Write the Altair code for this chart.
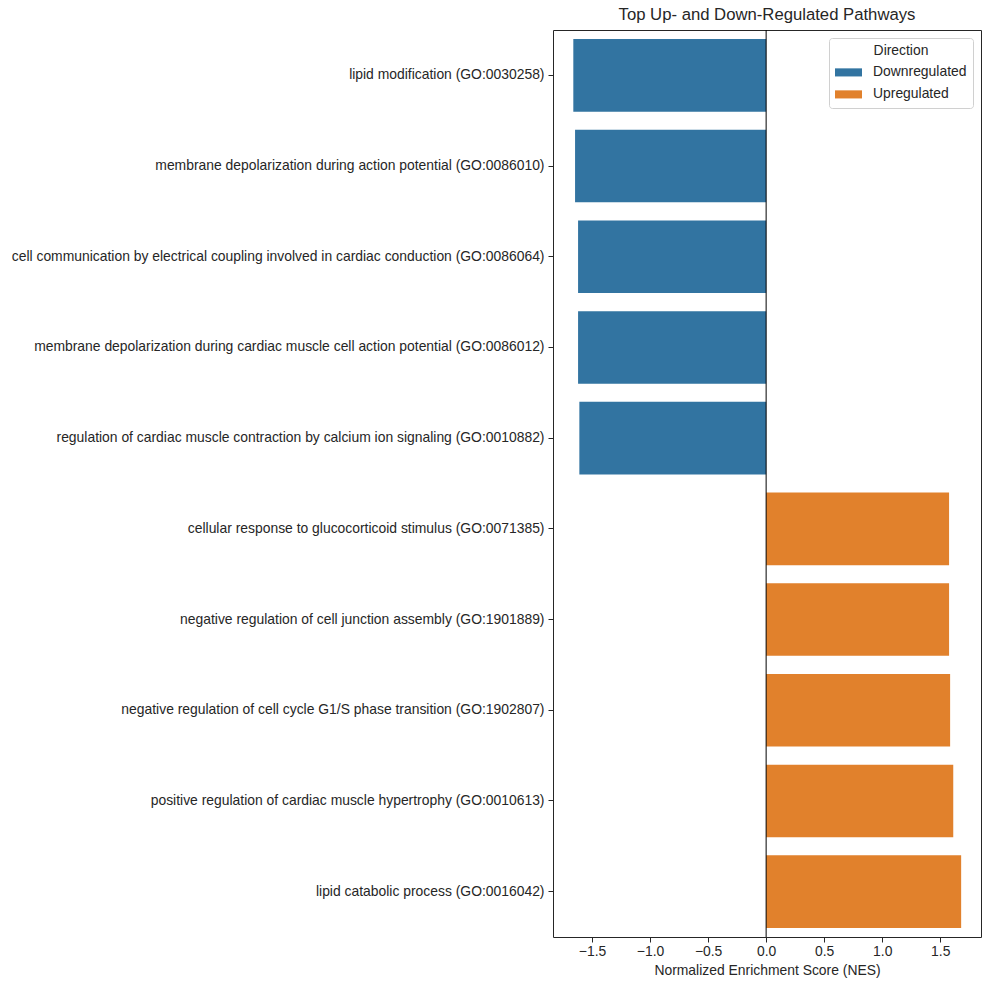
import altair as alt
import pandas as pd

pathways = [
    "lipid modification (GO:0030258)",
    "membrane depolarization during action potential (GO:0086010)",
    "cell communication by electrical coupling involved in cardiac conduction (GO:0086064)",
    "membrane depolarization during cardiac muscle cell action potential (GO:0086012)",
    "regulation of cardiac muscle contraction by calcium ion signaling (GO:0010882)",
    "cellular response to glucocorticoid stimulus (GO:0071385)",
    "negative regulation of cell junction assembly (GO:1901889)",
    "negative regulation of cell cycle G1/S phase transition (GO:1902807)",
    "positive regulation of cardiac muscle hypertrophy (GO:0010613)",
    "lipid catabolic process (GO:0016042)",
]
nes = [-1.661, -1.646, -1.62, -1.62, -1.609, 1.576, 1.576, 1.585, 1.612, 1.68]
direction = ["Downregulated"] * 5 + ["Upregulated"] * 5

df = pd.DataFrame({"Pathway": pathways, "NES": nes, "Direction": direction})

FONT = "Liberation Sans"
TXT = "#262626"
FS = 13.9

bars = alt.Chart(df).mark_bar(strokeWidth=0).encode(
    y=alt.Y("Pathway:N", sort=pathways, title=None,
            scale=alt.Scale(paddingInner=0.2, paddingOuter=0.1),
            axis=alt.Axis(labelLimit=0, labelFontSize=FS, labelColor=TXT,
                          tickSize=5, tickColor=TXT, labelPadding=4, domain=False)),
    x=alt.X("NES:Q", title="Normalized Enrichment Score (NES)",
            scale=alt.Scale(domain=[-1.836, 1.851], nice=False, zero=False),
            axis=alt.Axis(values=[-1.5, -1.0, -0.5, 0.0, 0.5, 1.0, 1.5],
                          labelExpr="replace(format(datum.value, '.1f'), '-', '\u2212')",
                          labelFontSize=FS, labelColor=TXT, tickSize=5, tickColor=TXT,
                          titleFontSize=FS, titleFontWeight="normal", titleColor=TXT,
                          titlePadding=6, grid=False, domain=False, labelFlush=False)),
    color=alt.Color("Direction:N",
                    scale=alt.Scale(domain=["Downregulated", "Upregulated"],
                                    range=["#3274a1", "#e1812c"]),
                    legend=alt.Legend(orient="top-right", offset=8,
                                      fillColor="white", strokeColor="#d0d0d0",
                                      cornerRadius=3, padding=6,
                                      titleFontSize=FS, titleFontWeight="normal",
                                      titleColor=TXT, labelFontSize=FS, labelColor=TXT,
                                      symbolType="M-1,-0.3L1,-0.3L1,0.3L-1,0.3Z",
                                      symbolSize=729, symbolStrokeWidth=0,
                                      labelOffset=11, rowPadding=1, titlePadding=1,
                                      titleAnchor="middle")),
)

zero = alt.Chart(pd.DataFrame({"x": [0.0]})).mark_rule(color="black", strokeWidth=1).encode(
    x="x:Q"
)

chart = (bars + zero).properties(
    width=428, height=907,
    title=alt.TitleParams("Top Up- and Down-Regulated Pathways", fontSize=16.7,
                          fontWeight="normal", color=TXT, offset=6, font=FONT),
    autosize=alt.AutoSizeParams(type="none"),
    padding={"left": 553, "top": 30, "right": 9, "bottom": 53},
).configure(font=FONT).configure_view(stroke=TXT, strokeWidth=1)

chart.save("out.html", embed_options={"renderer": "svg", "actions": False})
